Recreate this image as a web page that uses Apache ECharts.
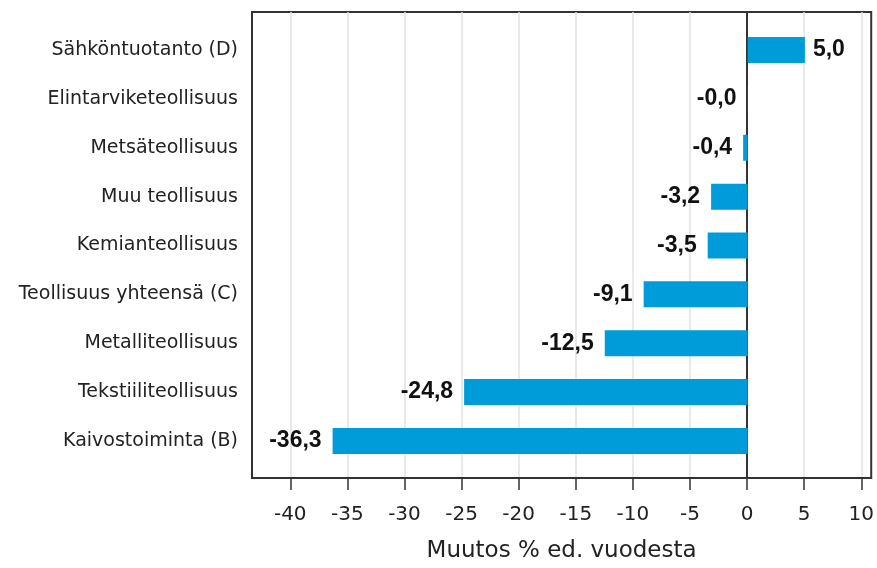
<!DOCTYPE html>
<html>
<head>
<meta charset="utf-8">
<script src="https://cdn.jsdelivr.net/npm/echarts@6/dist/echarts.min.js"></script>
<style>
  html, body { margin: 0; padding: 0; background: #fff; }
  #main { width: 877px; height: 568px; }
</style>
</head>
<body>
<div id="main"></div>
<script>
// categories top to bottom
const categories = [
  "Sähköntuotanto (D)",
  "Elintarviketeollisuus",
  "Metsäteollisuus",
  "Muu teollisuus",
  "Kemianteollisuus",
  "Teollisuus yhteensä (C)",
  "Metalliteollisuus",
  "Tekstiiliteollisuus",
  "Kaivostoiminta (B)",
];
const changes = [5.0, -0.02, -0.4, -3.2, -3.5, -9.1, -12.5, -24.8, -36.3];
const xTicks = [-40, -35, -30, -25, -20, -15, -10, -5, 0, 5, 10];
const xMin = -43.35;
const xMax = 10.87;

const chart = echarts.init(document.getElementById("main"));

const barData = changes.map((v) => ({
  value: v,
  label: { position: v >= 0 ? "right" : "left", distance: v >= 0 ? 8 : 11 },
}));

const option = {
  animation: false,
  grid: [
    // frame + value axis
    { left: 252, right: 5, top: 12, bottom: 89, show: true, borderColor: "#333", borderWidth: 2, backgroundColor: "transparent" },
    // bars (categories padded inside the frame)
    { left: 252, right: 5, top: 25.6, bottom: 102.6 },
  ],
  xAxis: [
    {
      type: "value",
      gridIndex: 0,
      min: xMin,
      max: xMax,
      name: "Muutos % ed. vuodesta",
      nameLocation: "middle",
      nameGap: 62,
      nameTextStyle: { fontFamily: "DejaVu Sans", fontSize: 23, color: "#222" },
      axisLine: { show: true, onZero: false, lineStyle: { color: "#333", width: 2 } },
      axisTick: { show: true, length: 12, customValues: xTicks, lineStyle: { color: "#333", width: 1.5 } },
      axisLabel: {
        customValues: xTicks,
        margin: 27,
        fontFamily: "DejaVu Sans",
        fontSize: 20,
        color: "#222",
      },
      splitLine: { show: true, lineStyle: { color: "#e2e2e2", width: 1.5 } },
    },
    {
      type: "value",
      gridIndex: 1,
      min: xMin,
      max: xMax,
      show: false,
    },
  ],
  yAxis: [
    {
      type: "value",
      gridIndex: 0,
      min: 0,
      max: 1,
      axisLine: { show: true, onZero: true, lineStyle: { color: "#333", width: 2 } },
      axisTick: { show: false },
      axisLabel: { show: false },
      splitLine: { show: false },
    },
    {
      type: "category",
      gridIndex: 1,
      data: categories,
      inverse: true,
      axisLine: { show: false, onZero: false },
      axisTick: { show: false },
      axisLabel: {
        margin: 14,
        fontFamily: "DejaVu Sans",
        fontSize: 19,
        color: "#222",
      },
    },
  ],
  series: [
    {
      type: "bar",
      xAxisIndex: 1,
      yAxisIndex: 1,
      barWidth: 26,
      itemStyle: { color: "#009bd9" },
      label: {
        show: true,
        fontFamily: "Liberation Sans",
        fontWeight: "bold",
        fontSize: 23,
        color: "#111",
        formatter: (p) => p.value.toFixed(1).replace(".", ","),
      },
      data: barData,
    },
  ],
};

chart.setOption(option);
</script>
</body>
</html>
